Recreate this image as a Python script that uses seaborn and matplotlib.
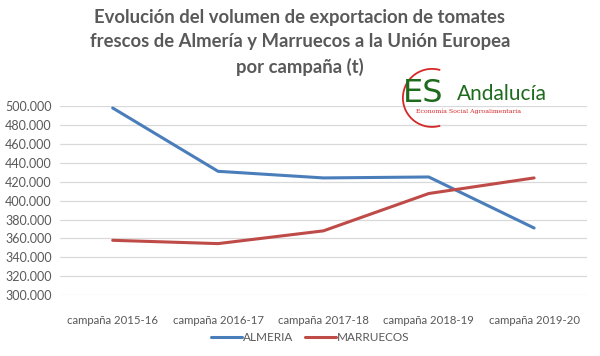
import matplotlib
matplotlib.use("Agg")
import matplotlib.pyplot as plt
from matplotlib.patches import Arc
from matplotlib.ticker import FuncFormatter
import seaborn as sns
import pandas as pd

# datos (t)
campanas = ["campaña 2015-16", "campaña 2016-17", "campaña 2017-18",
            "campaña 2018-19", "campaña 2019-20"]
almeria = [498000, 431000, 424000, 425000, 371000]
marruecos = [358000, 354500, 368000, 407500, 424000]

df = pd.DataFrame({
    "campana": campanas * 2,
    "volumen": almeria + marruecos,
    "serie": ["ALMERIA"] * 5 + ["MARRUECOS"] * 5,
})

sns.set_style("white")
plt.rcParams["font.family"] = ["Lato", "DejaVu Sans"]

gris = "#595959"
fig = plt.figure(figsize=(6, 3.56), dpi=100)
ax = fig.add_axes([0.1, 0.171, 0.878, 0.531])

sns.lineplot(data=df, x="campana", y="volumen", hue="serie",
             palette={"ALMERIA": "#4A7EBB", "MARRUECOS": "#BE4B48"},
             linewidth=2.2, sort=False, ax=ax)

ax.set_ylim(300000, 500000)
ax.set_xlim(-0.5, 4.5)
ax.set_yticks(range(300000, 500001, 20000))
ax.yaxis.set_major_formatter(FuncFormatter(lambda v, p: f"{int(v):,}".replace(",", ".")))
ax.grid(axis="y", color="#d9d9d9", linewidth=0.9)
ax.set_axisbelow(True)
for s in ax.spines.values():
    s.set_visible(False)
ax.tick_params(axis="y", length=0, labelsize=9, colors=gris, pad=6)
ax.tick_params(axis="x", length=0, labelsize=8.2, colors=gris, pad=14)
ax.set_xlabel("")
ax.set_ylabel("")

leg = ax.legend(loc="upper center", bbox_to_anchor=(0.475, -0.14), ncol=2,
                frameon=False, fontsize=8.5, handlelength=2.6, handletextpad=0.1,
                columnspacing=1.0)
for t in leg.get_texts():
    t.set_color(gris)

fig.text(0.5, 0.975, "Evolución del volumen de exportacion de tomates\n"
         "frescos de Almería y Marruecos a la Unión Europea\npor campaña (t)",
         ha="center", va="top", fontsize=13.3, fontweight="bold", color=gris,
         linespacing=1.5)

# logotipo
arc = Arc((0.72, 0.725), 0.097, 0.163, theta1=80, theta2=280,
          color="#D62828", linewidth=1.3, transform=fig.transFigure)
fig.add_artist(arc)
fig.text(0.672, 0.738, "ES", fontsize=23, color="#1E6B1E", va="center",
         family="DejaVu Sans")
fig.text(0.762, 0.735, "Andalucía", fontsize=15, color="#1E6B1E", va="center")
fig.text(0.693, 0.688, "Economía Social Agroalimentaria", fontsize=4.5,
         color="#D62828", va="center", family="DejaVu Serif")

fig.savefig("out.png", dpi=100, facecolor="white")
